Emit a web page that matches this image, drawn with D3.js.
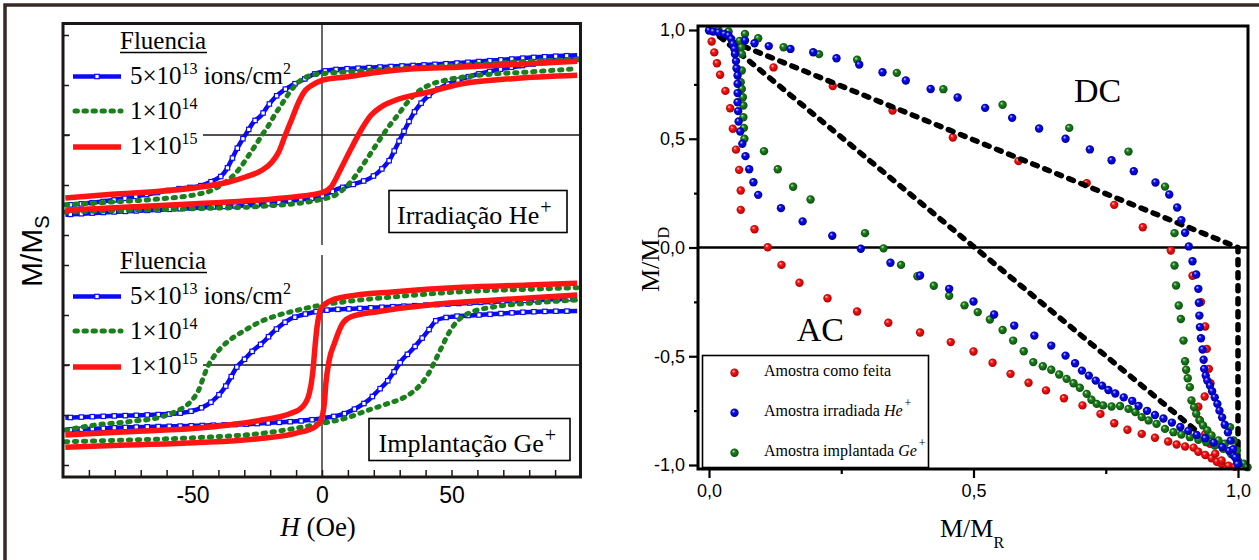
<!DOCTYPE html>
<html><head><meta charset="utf-8">
<script src="https://cdn.jsdelivr.net/npm/d3@7"></script>
<style>
html,body{margin:0;padding:0;background:#fff;}
svg{display:block;background:#fff;}
</style></head><body>
<svg id="chart" width="1259" height="560"></svg>
<script>
// ================= DATA =================
// Left panel: hysteresis loops, [H (Oe), M/Ms]
const hMajorTicks = [-50, 0, 50];
const hMinorTicks = [-90,-80,-70,-60,-50,-40,-30,-20,-10,0,10,20,30,40,50,60,70,80,90];
const mTicks = [-1, -0.5, 0, 0.5, 1];

// Irradiação He+
const heBlueDesc = [[98.5,0.797],[82.4,0.777],[66.9,0.747],[54.1,0.723],[41.2,0.703],[28.3,0.687],[15.4,0.67],[2.6,0.647],[-2.6,0.613],[-7.7,0.547],[-11.6,0.497],[-14.8,0.447],[-18.0,0.38],[-21.2,0.28],[-23.4,0.197],[-26.4,0.13],[-28.9,0.03],[-30.9,-0.053],[-32.8,-0.137],[-34.7,-0.237],[-36.7,-0.337],[-38.6,-0.403],[-41.8,-0.453],[-46.3,-0.503],[-55.3,-0.537],[-68.2,-0.597],[-81.1,-0.653],[-99.1,-0.703]];
const heBlueAsc = [[-99.1,-0.797],[-81.1,-0.77],[-61.8,-0.747],[-42.5,-0.72],[-23.2,-0.693],[-10.3,-0.653],[0,-0.61],[6.4,-0.537],[12.9,-0.487],[19.3,-0.42],[23.2,-0.337],[26.4,-0.237],[28.3,-0.137],[30.9,-0.003],[33.5,0.13],[36.1,0.247],[39.3,0.347],[42.5,0.423],[46.3,0.48],[54.1,0.563],[66.9,0.647],[82.4,0.713],[98.5,0.757]];
const heGreenDesc = [[98.5,0.757],[79.8,0.737],[54.1,0.697],[28.3,0.663],[9.0,0.63],[0,0.613],[-5.5,0.587],[-10.3,0.497],[-12.9,0.413],[-15.4,0.313],[-18.0,0.213],[-20.6,0.097],[-23.2,-0.003],[-25.7,-0.103],[-28.3,-0.203],[-30.9,-0.303],[-33.5,-0.387],[-37.3,-0.47],[-42.5,-0.553],[-48.9,-0.597],[-61.8,-0.637],[-81.1,-0.67],[-99.1,-0.697]];
const heGreenAsc = [[-99.1,-0.77],[-74.6,-0.753],[-48.9,-0.737],[-23.2,-0.713],[0,-0.643],[6.0,-0.587],[9.9,-0.503],[13.1,-0.403],[15.7,-0.303],[18.3,-0.203],[20.8,-0.103],[23.4,-0.003],[26.6,0.113],[29.2,0.197],[33.1,0.33],[36.9,0.43],[41.2,0.497],[47.6,0.547],[60.5,0.597],[79.8,0.63],[98.5,0.663]];
const heRedDesc = [[98.5,0.737],[79.8,0.713],[54.1,0.68],[28.3,0.647],[9.0,0.58],[0,0.547],[-3.9,0.497],[-6.4,0.447],[-9.0,0.33],[-11.6,0.163],[-14.2,-0.003],[-16.7,-0.17],[-19.3,-0.27],[-23.2,-0.353],[-29.6,-0.42],[-36.0,-0.47],[-48.9,-0.527],[-61.8,-0.56],[-81.1,-0.593],[-99.1,-0.63]];
const heRedAsc = [[-99.1,-0.753],[-74.6,-0.72],[-48.9,-0.687],[-18.0,-0.637],[0,-0.577],[3.5,-0.52],[7.3,-0.337],[11.2,-0.137],[15.4,0.063],[18.9,0.197],[22.8,0.28],[28.3,0.347],[41.2,0.43],[54.1,0.513],[73.4,0.563],[98.5,0.597]];

// Implantação Ge+
const geBlueDesc = [[98.5,0.667],[66.9,0.633],[41.2,0.6],[15.4,0.567],[0,0.543],[-7.7,0.5],[-12.9,0.45],[-18.0,0.35],[-23.2,0.217],[-26.4,0.15],[-30.2,0.05],[-32.8,-0.017],[-35.4,-0.133],[-37.3,-0.217],[-40.5,-0.317],[-44.4,-0.4],[-48.9,-0.45],[-55.3,-0.483],[-68.2,-0.5],[-81.1,-0.51],[-99.1,-0.527]];
const geBlueAsc = [[-99.1,-0.65],[-74.6,-0.623],[-48.9,-0.607],[-23.2,-0.583],[0,-0.533],[9.0,-0.483],[14.2,-0.417],[18.0,-0.35],[21.9,-0.25],[25.1,-0.167],[28.3,-0.05],[30.9,0.05],[34.7,0.15],[38.6,0.267],[41.2,0.35],[44.4,0.45],[50.2,0.483],[60.5,0.5],[82.4,0.533],[98.5,0.54]];
const geGreenDesc = [[98.5,0.773],[79.8,0.757],[54.1,0.733],[28.3,0.683],[9.0,0.633],[0,0.6],[-10.3,0.543],[-16.7,0.5],[-23.2,0.44],[-29.6,0.35],[-34.7,0.267],[-38.6,0.183],[-41.8,0.083],[-43.8,0],[-45.7,-0.117],[-47.6,-0.25],[-49.6,-0.333],[-52.1,-0.4],[-56.6,-0.467],[-61.8,-0.517],[-74.6,-0.567],[-87.5,-0.6],[-99.1,-0.65]];
const geGreenAsc = [[-99.1,-0.767],[-74.6,-0.75],[-48.9,-0.727],[-23.2,-0.683],[0,-0.583],[9.0,-0.533],[18.0,-0.45],[25.7,-0.383],[32.2,-0.317],[37.3,-0.217],[41.2,-0.083],[43.8,0.05],[46.3,0.183],[48.9,0.317],[51.5,0.417],[56.6,0.517],[66.9,0.583],[79.8,0.617],[98.5,0.65]];
const geRedDesc = [[98.5,0.817],[79.8,0.8],[54.1,0.777],[28.3,0.733],[9.0,0.683],[2.6,0.633],[0,0.583],[-1.0,0.517],[-1.9,0.383],[-2.7,0.183],[-3.6,-0.083],[-4.9,-0.283],[-7.5,-0.417],[-12.0,-0.483],[-23.2,-0.55],[-48.9,-0.633],[-74.6,-0.667],[-99.1,-0.7]];
const geRedAsc = [[-99.1,-0.823],[-74.6,-0.8],[-48.9,-0.777],[-23.2,-0.733],[-10.3,-0.683],[-2.6,-0.617],[-0.4,-0.55],[0.9,-0.383],[1.5,-0.183],[2.8,0.05],[4.8,0.217],[8.0,0.417],[11.2,0.483],[21.4,0.533],[41.2,0.6],[66.9,0.65],[98.5,0.7]];

const fluenceTitle = "Fluencia";
const fluenceLabels = [
  {base: "5×10", exp: "13", tail: " ions/cm", tailExp: "2"},
  {base: "1×10", exp: "14", tail: "", tailExp: ""},
  {base: "1×10", exp: "15", tail: "", tailExp: ""}
];
const panelLabels = [{text: "Irradiação He", sup: "+"}, {text: "Implantação Ge", sup: "+"}];

// Right panel: Henkel-type plot, [M/M_R, M/M_D]
const rTicksMajor = [0, 0.5, 1];
const rTicksMinor = [0.25, 0.75];
const dTicksMajor = [-1, -0.5, 0, 0.5, 1];
const dTicksMinor = [-0.75, -0.25, 0.25, 0.75];

const redPts = [
 [0.005,0.947],[0.010,0.897],[0.015,0.847],[0.021,0.794],[0.031,0.72],[0.040,0.64],[0.045,0.546],[0.051,0.45],[0.057,0.357],[0.060,0.262],[0.060,0.173],[0.086,0.084],[0.111,0.001],[0.137,-0.080],[0.171,-0.162],[0.224,-0.233],[0.280,-0.294],[0.339,-0.346],[0.399,-0.391],[0.457,-0.435],[0.500,-0.478],[0.536,-0.530],[0.570,-0.581],[0.604,-0.622],[0.637,-0.657],[0.671,-0.693],[0.706,-0.726],[0.740,-0.765],[0.766,-0.808],[0.791,-0.838],[0.818,-0.857],[0.843,-0.875],[0.868,-0.892],[0.884,-0.906],[0.900,-0.915],[0.916,-0.920],[0.925,-0.939],[0.938,-0.954],[0.950,-0.969],[0.960,-0.985],[0.969,-0.995],[0.982,-1.003],[0.994,-1.008],
 [0.055,0.913],[0.122,0.828],[0.234,0.742],[0.347,0.63],[0.461,0.506],[0.585,0.397],[0.714,0.296],[0.766,0.196],[0.820,0.093],[0.873,-0.014],[0.914,-0.13],[0.930,-0.251],[0.938,-0.363],[0.941,-0.466],[0.945,-0.558],[0.948,-0.624],[0.937,-0.685],[0.925,-0.732],[0.927,-0.793],[0.938,-0.857],[0.947,-0.902],[0.957,-0.948],[0.969,-0.979]
];
const greenPts = [
 [0.018,1.0],[0.037,0.993],[0.058,0.95],[0.061,0.92],[0.062,0.89],[0.062,0.814],[0.060,0.76],[0.062,0.729],[0.064,0.691],[0.065,0.653],[0.065,0.599],[0.066,0.55],[0.067,0.5],[0.104,0.443],[0.130,0.360],[0.159,0.279],[0.192,0.221],[0.295,0.066],[0.330,-0.004],[0.363,-0.080],[0.394,-0.132],[0.425,-0.176],[0.454,-0.222],[0.483,-0.266],[0.508,-0.297],[0.531,-0.331],[0.555,-0.379],[0.575,-0.428],[0.595,-0.477],[0.613,-0.527],[0.631,-0.546],[0.647,-0.562],[0.662,-0.584],[0.676,-0.604],[0.689,-0.624],[0.701,-0.645],[0.714,-0.673],[0.723,-0.700],[0.733,-0.719],[0.745,-0.726],[0.761,-0.731],[0.777,-0.729],[0.793,-0.742],[0.806,-0.757],[0.818,-0.780],[0.831,-0.795],[0.846,-0.811],[0.862,-0.834],[0.878,-0.849],[0.893,-0.860],[0.909,-0.872],[0.925,-0.884],[0.940,-0.895],[0.956,-0.911],[0.972,-0.926],[0.987,-0.949],[1.0,-0.98],
 [0.068,0.982],[0.093,0.962],[0.141,0.921],[0.208,0.889],[0.280,0.863],[0.355,0.803],[0.443,0.728],[0.555,0.656],[0.681,0.550],[0.793,0.441],[0.862,0.280],[0.880,0.066],[0.880,-0.083],[0.883,-0.175],[0.888,-0.267],[0.892,-0.329],[0.897,-0.428],[0.900,-0.523],[0.902,-0.562],[0.905,-0.601],[0.909,-0.642],[0.912,-0.703],[0.917,-0.734],[0.921,-0.764],[0.928,-0.795],[0.934,-0.818],[0.942,-0.841],[0.950,-0.864],[0.963,-0.887],[0.975,-0.902],[0.985,-0.826],[0.992,-0.887],[0.998,-0.933],[1.011,-0.994],[1.018,-1.01]
];
const bluePts = [
 [0.0,0.998],[0.008,0.993],[0.018,0.989],[0.029,0.982],[0.037,0.975],[0.042,0.959],[0.045,0.936],[0.048,0.913],[0.049,0.890],[0.051,0.857],[0.052,0.824],[0.054,0.791],[0.054,0.753],[0.054,0.710],[0.054,0.668],[0.055,0.627],[0.056,0.579],[0.059,0.533],[0.063,0.477],[0.069,0.420],[0.076,0.360],[0.084,0.300],[0.093,0.242],[0.136,0.181],[0.177,0.120],[0.233,0.054],[0.287,-0.006],[0.343,-0.070],[0.399,-0.129],[0.454,-0.190],[0.500,-0.248],[0.539,-0.308],[0.577,-0.359],[0.615,-0.405],[0.647,-0.451],[0.674,-0.497],[0.692,-0.532],[0.705,-0.566],[0.718,-0.589],[0.731,-0.612],[0.743,-0.635],[0.755,-0.655],[0.768,-0.671],[0.784,-0.689],[0.800,-0.705],[0.812,-0.728],[0.828,-0.751],[0.843,-0.770],[0.859,-0.786],[0.875,-0.805],[0.891,-0.825],[0.906,-0.843],[0.922,-0.862],[0.938,-0.877],[0.954,-0.897],[0.970,-0.917],[0.983,-0.935],[0.992,-0.958],[0.998,-0.981],[1.001,-0.996],
 [0.068,0.952],[0.086,0.939],[0.113,0.926],[0.154,0.913],[0.197,0.898],[0.241,0.870],[0.284,0.841],[0.328,0.806],[0.372,0.768],[0.419,0.729],[0.470,0.690],[0.522,0.642],[0.573,0.596],[0.624,0.547],[0.674,0.500],[0.720,0.451],[0.761,0.401],[0.803,0.351],[0.844,0.299],[0.870,0.244],[0.885,0.184],[0.893,0.126],[0.900,0.068],[0.907,0.005],[0.914,-0.063],[0.921,-0.124],[0.925,-0.190],[0.926,-0.254],[0.927,-0.313],[0.928,-0.366],[0.930,-0.417],[0.933,-0.469],[0.935,-0.516],[0.936,-0.558],[0.939,-0.589],[0.942,-0.612],[0.947,-0.635],[0.951,-0.661],[0.956,-0.689],[0.961,-0.719],[0.965,-0.750],[0.970,-0.781],[0.975,-0.815],[0.981,-0.850],[0.986,-0.888],[0.991,-0.927],[0.995,-0.965],[0.999,-0.996]
];
// Reference dashed lines
const dcLine = [[0.02,0.97],[1.0,0.0],[1.0,-0.99]];
const acLine = [[0.02,0.97],[0.925,-0.85]];
const henkelLabels = [{text: "DC", x: 0.69, y: 0.67}, {text: "AC", x: 0.166, y: -0.43}];
const seriesLegend = [
  {key: "red", label: "Amostra como feita", ital: "", sup: ""},
  {key: "blue", label: "Amostra irradiada ", ital: "He", sup: "+"},
  {key: "green", label: "Amostra implantada ", ital: "Ge", sup: "+"}
];

// ================= DRAW =================
const SERIF = '"Liberation Serif","Times New Roman",serif';
const SANS = '"Liberation Sans",Arial,sans-serif';
const BLUE = "#0a0af5", GREEN = "#1b801b", RED = "#ff1414", INK = "#1c1717";
const svg = d3.select("#chart");
const defs = svg.append("defs");

// outer border
svg.append("path").attr("d", "M5,560 L5,5 L1259,5").attr("fill","none").attr("stroke","#3a2828").attr("stroke-width",3.5);

// ---------- LEFT ----------
const xH = d3.scaleLinear().domain([-100,100]).range([63,581]);
const yUp = d3.scaleLinear().domain([-1,1]).range([235,35]);
const yLo = d3.scaleLinear().domain([-1,1]).range([465,265]);

defs.append("clipPath").attr("id","clipUp").append("rect").attr("x",63).attr("y",23).attr("width",518).attr("height",227);
defs.append("clipPath").attr("id","clipLo").append("rect").attr("x",63).attr("y",250).attr("width",518).attr("height",227);

const L = svg.append("g");
// zero lines
[yUp, yLo].forEach(y => {
  L.append("line").attr("x1",63).attr("x2",581).attr("y1",y(0)).attr("y2",y(0)).attr("stroke",INK).attr("stroke-width",1.3);
});
L.append("line").attr("x1",xH(0)).attr("x2",xH(0)).attr("y1",23).attr("y2",245).attr("stroke",INK).attr("stroke-width",1.3);
L.append("line").attr("x1",xH(0)).attr("x2",xH(0)).attr("y1",255).attr("y2",477).attr("stroke",INK).attr("stroke-width",1.3);

function drawBranch(g, data, y, kind) {
  const sorted = data.slice().sort((a,b)=>a[0]-b[0]);
  const line = d3.line().x(d=>xH(d[0])).y(d=>y(d[1])).curve(d3.curveMonotoneX);
  const p = g.append("path").attr("d", line(sorted)).attr("fill","none").attr("stroke-linejoin","round");
  if (kind === "blue") {
    p.attr("stroke", BLUE).attr("stroke-width", 4.5);
    const node = p.node(), len = node.getTotalLength();
    for (let s = 5; s < len; s += 11) {
      const pt = node.getPointAtLength(s);
      g.append("rect").attr("x", pt.x-2.2).attr("y", pt.y-2.2).attr("width",4.4).attr("height",4.4)
        .attr("fill","#fff").attr("stroke",BLUE).attr("stroke-width",1.2);
    }
  } else if (kind === "green") {
    p.attr("stroke", GREEN).attr("stroke-width", 5).attr("stroke-dasharray","2.4,6.6").attr("stroke-linecap","round");
  } else {
    p.attr("stroke", RED).attr("stroke-width", 5.5);
  }
}

const panels = [
  {y: yUp, clip: "clipUp", blue: [heBlueDesc, heBlueAsc], green: [heGreenDesc, heGreenAsc], red: [heRedDesc, heRedAsc], off: 0,
   box: {x: 389, y: 190.5, w: 178, h: 42, tx: 397, ty: 224}},
  {y: yLo, clip: "clipLo", blue: [geBlueDesc, geBlueAsc], green: [geGreenDesc, geGreenAsc], red: [geRedDesc, geRedAsc], off: 220,
   box: {x: 369, y: 418.5, w: 201, h: 42, tx: 378.5, ty: 452}}
];

panels.forEach((P, i) => {
  // legend background
  L.append("rect").attr("x",70).attr("y",27+P.off).attr("width",133).attr("height",133).attr("fill","#fff");
  const g = L.append("g").attr("clip-path", `url(#${P.clip})`);
  P.blue.forEach(d => drawBranch(g, d, P.y, "blue"));
  P.green.forEach(d => drawBranch(g, d, P.y, "green"));
  P.red.forEach(d => drawBranch(g, d, P.y, "red"));

  // legend
  const lg = L.append("g").attr("transform", `translate(0,${P.off})`);
  lg.append("text").attr("x",120).attr("y",48.7).attr("font-family",SERIF).attr("font-size",25).attr("fill","#000").text(fluenceTitle);
  lg.append("line").attr("x1",120).attr("x2",207).attr("y1",52.5).attr("y2",52.5).attr("stroke","#000").attr("stroke-width",1.5);
  const rowsY = [76.5, 111, 147];
  const baseY = [84, 119, 154];
  const kinds = ["blue","green","red"];
  kinds.forEach((k, j) => {
    const ln = lg.append("line").attr("x1",73).attr("x2",121).attr("y1",rowsY[j]).attr("y2",rowsY[j]);
    if (k === "blue") {
      ln.attr("stroke",BLUE).attr("stroke-width",4.5);
      lg.append("rect").attr("x",94.8).attr("y",rowsY[j]-2.2).attr("width",4.4).attr("height",4.4).attr("fill","#fff").attr("stroke",BLUE).attr("stroke-width",1.2);
    } else if (k === "green") {
      ln.attr("stroke",GREEN).attr("stroke-width",5).attr("stroke-dasharray","2.4,6.6").attr("stroke-linecap","round").attr("x1",75);
    } else {
      ln.attr("stroke",RED).attr("stroke-width",5.5);
    }
    const f = fluenceLabels[j];
    const t = lg.append("text").attr("x",130).attr("y",baseY[j]).attr("font-family",SERIF).attr("font-size",25).attr("fill","#000");
    t.append("tspan").text(f.base);
    t.append("tspan").attr("font-size",16).attr("dy",-10).text(f.exp);
    if (f.tail) {
      t.append("tspan").attr("font-size",25).attr("dy",10).text(f.tail);
      t.append("tspan").attr("font-size",16).attr("dy",-10).text(f.tailExp);
    }
  });

  // annotation box
  const b = P.box;
  L.append("rect").attr("x",b.x).attr("y",b.y).attr("width",b.w).attr("height",b.h).attr("fill","#fff").attr("stroke","#000").attr("stroke-width",1.6);
  const at = L.append("text").attr("x",b.tx).attr("y",b.ty).attr("font-family",SERIF).attr("font-size",26).attr("fill","#000");
  at.append("tspan").text(panelLabels[i].text);
  at.append("tspan").attr("font-size",20).attr("dy",-10).attr("dx",1).text(panelLabels[i].sup);

  // left ticks
  L.append("g").attr("transform","translate(63,0)")
    .call(d3.axisRight(P.y).tickValues(mTicks).tickSize(6).tickFormat(""))
    .call(gg => { gg.select(".domain").remove(); gg.selectAll("line").attr("stroke",INK).attr("stroke-width",1.5); });
});

// bottom ticks (inward) & labels
L.append("g").attr("transform","translate(0,477)")
  .call(d3.axisTop(xH).tickValues(hMinorTicks).tickSize(7).tickFormat(""))
  .call(g => { g.select(".domain").remove(); g.selectAll("line").attr("stroke",INK).attr("stroke-width",1.5); });
L.append("g").attr("transform","translate(0,477)")
  .call(d3.axisBottom(xH).tickValues(hMajorTicks).tickSize(0).tickPadding(10).tickFormat(d => String(d)))
  .call(g => { g.select(".domain").remove(); g.selectAll("text").attr("font-family",SANS).attr("font-size",23).attr("fill","#000"); });

// frame
L.append("rect").attr("x",63).attr("y",23.5).attr("width",517.5).attr("height",453.5).attr("fill","none").attr("stroke",INK).attr("stroke-width",3);

// axis labels
const xl = L.append("text").attr("x",318).attr("y",536).attr("text-anchor","middle").attr("font-family",SERIF).attr("font-size",27).attr("fill","#000");
xl.append("tspan").attr("font-style","italic").text("H");
xl.append("tspan").text(" (Oe)");
const yl = L.append("text").attr("transform","translate(42,287) rotate(-90)").attr("font-family",SANS).attr("font-size",30).attr("fill","#000");
yl.append("tspan").text("M/M");
yl.append("tspan").attr("font-size",20).attr("dy",7).text("S");

// ---------- RIGHT ----------
const xR = d3.scaleLinear().domain([0,1]).range([709,1238]);
const yR = d3.scaleLinear().domain([-1,1]).range([465,30]);
const R = svg.append("g");

const grads = {red: ["#ffd6d6", RED, "#a00000"], blue: ["#d8d8ff", BLUE, "#00008a"], green: ["#c4ecc4", GREEN, "#0b4a0b"]};
Object.entries(grads).forEach(([k, c]) => {
  const gr = defs.append("radialGradient").attr("id","g_"+k).attr("cx","50%").attr("cy","50%").attr("r","55%").attr("fx","35%").attr("fy","30%");
  gr.append("stop").attr("offset","0%").attr("stop-color",c[0]);
  gr.append("stop").attr("offset","35%").attr("stop-color",c[1]);
  gr.append("stop").attr("offset","100%").attr("stop-color",c[2]);
});

// zero line
R.append("line").attr("x1",698).attr("x2",1248).attr("y1",yR(0)).attr("y2",yR(0)).attr("stroke","#000").attr("stroke-width",2.6);

function dots(data, key) {
  R.append("g").selectAll("circle").data(data).join("circle")
    .attr("cx", d => xR(d[0])).attr("cy", d => yR(d[1])).attr("r", 4.2)
    .attr("fill", `url(#g_${key})`);
}
const dashLine = d3.line().x(d => xR(d[0])).y(d => yR(d[1]));
dots(redPts, "red");
[dcLine, acLine].forEach(d => {
  R.append("path").attr("d", dashLine(d)).attr("fill","none").attr("stroke","#000").attr("stroke-width",5.5)
    .attr("stroke-dasharray","5,8").attr("stroke-linecap","round").attr("stroke-linejoin","round");
});
dots(greenPts, "green");
dots(bluePts, "blue");

// Henkel labels
henkelLabels.forEach(h => {
  R.append("text").attr("x", xR(h.x)).attr("y", yR(h.y)).attr("font-family",SERIF).attr("font-size",34).attr("fill","#000").text(h.text);
});

// legend
R.append("rect").attr("x",702.5).attr("y",355.5).attr("width",226).attr("height",112).attr("fill","#fff").attr("stroke","#000").attr("stroke-width",1.6);
seriesLegend.forEach((s, i) => {
  const cy = 372.7 + i*40;
  R.append("circle").attr("cx",734.5).attr("cy",cy).attr("r",4.2).attr("fill",`url(#g_${s.key})`);
  const t = R.append("text").attr("x",764).attr("y",cy+3).attr("font-family",SERIF).attr("font-size",16).attr("fill","#000");
  t.append("tspan").text(s.label);
  if (s.ital) {
    t.append("tspan").attr("font-style","italic").text(s.ital);
    t.append("tspan").attr("font-size",12).attr("dy",-9).attr("dx",2).text(s.sup);
  }
});

// frame
R.append("rect").attr("x",698).attr("y",26).attr("width",550).attr("height",443).attr("fill","none").attr("stroke","#000").attr("stroke-width",3);

const commaFmt = d => d3.format(".1f")(d).replace(".", ",").replace("−","-");
R.append("g").attr("transform","translate(698,0)")
  .call(d3.axisLeft(yR).tickValues(dTicksMajor).tickSize(9).tickPadding(4).tickFormat(commaFmt))
  .call(g => { g.select(".domain").remove(); g.selectAll("line").attr("stroke","#000").attr("stroke-width",2.2);
               g.selectAll("text").attr("font-family",SANS).attr("font-size",18).attr("fill","#000"); });
R.append("g").attr("transform","translate(698,0)")
  .call(d3.axisLeft(yR).tickValues(dTicksMinor).tickSize(4).tickFormat(""))
  .call(g => { g.select(".domain").remove(); g.selectAll("line").attr("stroke","#000").attr("stroke-width",2.2); });
R.append("g").attr("transform","translate(0,469)")
  .call(d3.axisBottom(xR).tickValues(rTicksMajor).tickSize(9).tickPadding(6).tickFormat(commaFmt))
  .call(g => { g.select(".domain").remove(); g.selectAll("line").attr("stroke","#000").attr("stroke-width",2.2);
               g.selectAll("text").attr("font-family",SANS).attr("font-size",18).attr("fill","#000"); });
R.append("g").attr("transform","translate(0,469)")
  .call(d3.axisBottom(xR).tickValues(rTicksMinor).tickSize(5).tickFormat(""))
  .call(g => { g.select(".domain").remove(); g.selectAll("line").attr("stroke","#000").attr("stroke-width",2.2); });

// axis labels
const rx = R.append("text").attr("x",940).attr("y",537).attr("font-family",SERIF).attr("font-size",26).attr("fill","#000");
rx.append("tspan").text("M/M");
rx.append("tspan").attr("font-size",16).attr("dy",11).text("R");
const ry = R.append("text").attr("transform","translate(659,292) rotate(-90)").attr("font-family",SERIF).attr("font-size",26).attr("fill","#000");
ry.append("tspan").text("M/M");
ry.append("tspan").attr("font-size",16).attr("dy",10).text("D");
</script></body></html>
